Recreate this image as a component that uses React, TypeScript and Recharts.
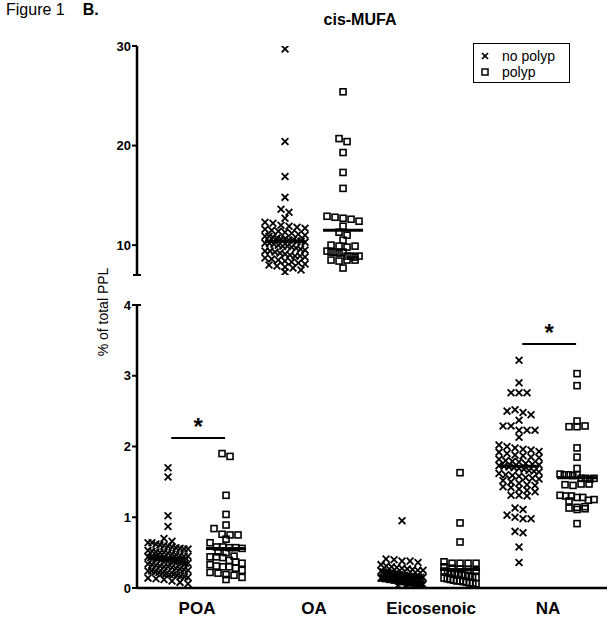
import React from 'react';
import { ScatterChart, Scatter, XAxis, YAxis, ReferenceLine } from 'recharts';

// ---------- data ----------
const categories = ['POA', 'OA', 'Eicosenoic', 'NA'];
const groupNames = ['no polyp', 'polyp'];

const poaNoPolyp = [1.70, 1.57, 1.02, 0.87, 0.70, 0.66, 0.64, 0.64, 0.62, 0.61, 0.60, 0.59, 0.58, 0.57, 0.56, 0.55, 0.55, 0.53, 0.52, 0.51, 0.50, 0.50, 0.49, 0.48, 0.47, 0.46, 0.45, 0.45, 0.44, 0.43, 0.43, 0.42, 0.42, 0.41, 0.41, 0.40, 0.40, 0.39, 0.38, 0.38, 0.37, 0.36, 0.35, 0.35, 0.34, 0.33, 0.32, 0.31, 0.30, 0.30, 0.29, 0.28, 0.27, 0.26, 0.25, 0.24, 0.24, 0.23, 0.22, 0.21, 0.20, 0.19, 0.19, 0.18, 0.17, 0.16, 0.15, 0.14, 0.13, 0.12, 0.10, 0.08, 0.06];
const poaPolyp = [1.90, 1.86, 1.31, 1.04, 0.89, 0.84, 0.76, 0.75, 0.75, 0.69, 0.64, 0.58, 0.58, 0.57, 0.57, 0.56, 0.51, 0.50, 0.45, 0.44, 0.44, 0.43, 0.39, 0.37, 0.35, 0.33, 0.31, 0.30, 0.30, 0.28, 0.25, 0.22, 0.21, 0.19, 0.18, 0.15, 0.12];
const oaNoPolyp = [29.7, 20.4, 16.9, 14.8, 13.6, 13.3, 12.7, 12.3, 12.2, 12.0, 11.9, 11.8, 11.7, 11.6, 11.5, 11.4, 11.3, 11.2, 11.1, 11.0, 10.9, 10.9, 10.8, 10.7, 10.6, 10.6, 10.5, 10.5, 10.4, 10.4, 10.3, 10.2, 10.2, 10.1, 10.0, 9.9, 9.9, 9.8, 9.7, 9.6, 9.5, 9.4, 9.4, 9.3, 9.2, 9.1, 9.0, 8.9, 8.9, 8.8, 8.7, 8.6, 8.5, 8.4, 8.3, 8.2, 8.1, 8.0, 7.9, 7.8, 7.7, 7.5, 7.3];
const oaPolyp = [25.4, 20.7, 20.4, 19.3, 17.3, 15.7, 12.9, 12.8, 12.7, 12.6, 12.4, 11.9, 11.3, 11.0, 10.5, 10.0, 9.9, 9.8, 9.9, 9.4, 9.3, 9.3, 9.2, 9.3, 8.9, 8.9, 8.8, 8.9, 8.5, 8.4, 8.5, 8.5, 7.7];
const eicoNoPolyp = [0.95, 0.41, 0.40, 0.38, 0.38, 0.36, 0.33, 0.31, 0.30, 0.29, 0.28, 0.27, 0.26, 0.25, 0.25, 0.24, 0.23, 0.22, 0.22, 0.21, 0.20, 0.20, 0.19, 0.19, 0.18, 0.18, 0.17, 0.17, 0.16, 0.16, 0.16, 0.15, 0.15, 0.15, 0.14, 0.14, 0.14, 0.13, 0.13, 0.13, 0.12, 0.12, 0.12, 0.11, 0.11, 0.11, 0.10, 0.10, 0.10, 0.09, 0.09, 0.09, 0.08, 0.08, 0.08, 0.07, 0.07, 0.07, 0.06, 0.06, 0.06, 0.05, 0.05, 0.05, 0.04, 0.04];
const eicoPolyp = [1.63, 0.92, 0.65, 0.37, 0.35, 0.35, 0.35, 0.35, 0.30, 0.28, 0.27, 0.26, 0.25, 0.24, 0.23, 0.22, 0.21, 0.20, 0.19, 0.18, 0.17, 0.16, 0.15, 0.14, 0.13, 0.12, 0.11, 0.10, 0.10, 0.09, 0.08, 0.07, 0.07, 0.06];
const naNoPolyp = [3.22, 2.90, 2.76, 2.76, 2.76, 2.50, 2.52, 2.48, 2.45, 2.37, 2.29, 2.29, 2.23, 2.23, 2.23, 2.13, 2.02, 2.00, 1.98, 1.96, 1.95, 1.93, 1.92, 1.90, 1.88, 1.87, 1.85, 1.84, 1.82, 1.80, 1.79, 1.78, 1.76, 1.75, 1.74, 1.73, 1.72, 1.71, 1.70, 1.69, 1.68, 1.66, 1.65, 1.64, 1.62, 1.60, 1.59, 1.58, 1.56, 1.55, 1.54, 1.52, 1.50, 1.48, 1.46, 1.45, 1.43, 1.42, 1.40, 1.38, 1.36, 1.31, 1.31, 1.30, 1.13, 1.11, 1.03, 1.00, 0.98, 0.98, 0.80, 0.78, 0.58, 0.36];
const naPolyp = [3.03, 2.86, 2.36, 2.28, 2.28, 2.29, 1.98, 1.85, 1.69, 1.61, 1.60, 1.60, 1.59, 1.60, 1.55, 1.55, 1.54, 1.55, 1.46, 1.45, 1.47, 1.47, 1.31, 1.30, 1.30, 1.28, 1.28, 1.24, 1.23, 1.25, 1.13, 1.14, 1.11, 1.12, 1.15, 0.91];

const mediansNoPolyp = [0.42, 10.4, 0.15, 1.72];
const mediansPolyp = [0.56, 11.5, 0.26, 1.56];

const sigBars = [
  { cat: 0, y: 2.12 },
  { cat: 3, y: 3.45 },
];

const upperTicks = [10, 20, 30];
const lowerTicks = [0, 1, 2, 3, 4];
const upperDomain: [number, number] = [7, 30];
const lowerDomain: [number, number] = [0, 4];

// ---------- layout helpers ----------
const X_DOMAIN: [number, number] = [-0.513, 3.504];
const PX_PER_X = 117;
const SIDE = 0.248;
const FONT = 'Arial, "Liberation Sans", Helvetica, sans-serif';

type Pt = { x: number; y: number; dx: number };

function swarm(values: number[], cat: number, side: number, pxPerUnit: number, halfWidth: number): Pt[] {
  const rowPx = 7;
  const step = 8;
  const rows = new Map<number, number[]>();
  values.forEach((v, i) => {
    const r = Math.round((v * pxPerUnit) / rowPx);
    if (!rows.has(r)) rows.set(r, []);
    rows.get(r)!.push(i);
  });
  const out: Pt[] = values.map((v) => ({ x: cat + side * SIDE, y: v, dx: 0 }));
  rows.forEach((idx) => {
    const n = idx.length;
    const s = n > 1 ? Math.min(step, (2 * halfWidth) / (n - 1)) : 0;
    idx.forEach((i, k) => {
      out[i].dx = (k - (n - 1) / 2) * s;
    });
  });
  return out;
}

const LOWER_PX = 70.8;
const UPPER_PX = 9.95;

const lowerNo = [
  ...swarm(poaNoPolyp, 0, -1, LOWER_PX, 20),
  ...swarm(eicoNoPolyp, 2, -1, LOWER_PX, 21),
  ...swarm(naNoPolyp, 3, -1, LOWER_PX, 20),
];
const lowerYes = [
  ...swarm(poaPolyp, 0, 1, LOWER_PX, 16),
  ...swarm(eicoPolyp, 2, 1, LOWER_PX, 16),
  ...swarm(naPolyp, 3, 1, LOWER_PX, 17),
];
const upperNo = swarm(oaNoPolyp, 1, -1, UPPER_PX, 20);
const upperYes = swarm(oaPolyp, 1, 1, UPPER_PX, 16);

const Cross = (props: any) => {
  const { cx, cy, payload } = props;
  if (cx == null || cy == null) return null;
  const x = cx + (payload?.dx || 0);
  const r = 3.4;
  return (
    <g>
      <line x1={x - r} y1={cy - r} x2={x + r} y2={cy + r} stroke="#000" strokeWidth={1.8} />
      <line x1={x - r} y1={cy + r} x2={x + r} y2={cy - r} stroke="#000" strokeWidth={1.8} />
    </g>
  );
};

const Square = (props: any) => {
  const { cx, cy, payload } = props;
  if (cx == null || cy == null) return null;
  const x = cx + (payload?.dx || 0);
  const r = 3;
  return <rect x={x - r} y={cy - r} width={2 * r} height={2 * r} fill="none" stroke="#000" strokeWidth={1.6} />;
};

const medianHalf = 20 / PX_PER_X;
const capHalf = 4 / PX_PER_X;

const yTick = { fontSize: 13, fontWeight: 'bold', fill: '#000', fontFamily: FONT };

export default function App() {
  return (
    <div style={{ position: 'absolute', left: 0, top: 0, width: 615, height: 622, background: '#fff', fontFamily: FONT, color: '#000' }}>
      <div style={{ position: 'absolute', left: 6, top: 1, fontSize: 16, whiteSpace: 'nowrap' }}>
        Figure 1<span style={{ fontWeight: 'bold', marginLeft: 18 }}>B.</span>
      </div>
      <div style={{ position: 'absolute', left: 360, top: 11, transform: 'translateX(-50%)', fontSize: 16, fontWeight: 'bold', whiteSpace: 'nowrap' }}>
        cis-MUFA
      </div>
      <div
        style={{
          position: 'absolute',
          left: 103,
          top: 312,
          transform: 'translate(-50%, -50%) rotate(-90deg)',
          fontSize: 14,
          whiteSpace: 'nowrap',
        }}
      >
        % of total PPL
      </div>

      {/* upper segment (OA) */}
      <div style={{ position: 'absolute', left: 0, top: 0 }}>
        <ScatterChart width={615} height={285} margin={{ top: 46, right: 8, bottom: 10, left: 0 }}>
          <XAxis type="number" dataKey="x" domain={X_DOMAIN} hide allowDataOverflow />
          <YAxis
            type="number"
            dataKey="y"
            domain={upperDomain}
            ticks={upperTicks}
            width={137}
            allowDataOverflow
            tick={yTick}
            tickSize={5}
            tickMargin={1}
            axisLine={{ stroke: '#000', strokeWidth: 2.5 }}
            tickLine={{ stroke: '#000', strokeWidth: 2 }}
          />
          <Scatter name={groupNames[0]} data={upperNo} shape={<Cross />} isAnimationActive={false} />
          <Scatter name={groupNames[1]} data={upperYes} shape={<Square />} isAnimationActive={false} />
          <ReferenceLine
            segment={[{ x: 1 - SIDE - medianHalf, y: mediansNoPolyp[1] }, { x: 1 - SIDE + medianHalf, y: mediansNoPolyp[1] }]}
            stroke="#000"
            strokeWidth={3}
          />
          <ReferenceLine
            segment={[{ x: 1 + SIDE - medianHalf, y: mediansPolyp[1] }, { x: 1 + SIDE + medianHalf, y: mediansPolyp[1] }]}
            stroke="#000"
            strokeWidth={3}
          />
          <ReferenceLine
            segment={[{ x: X_DOMAIN[0] - capHalf, y: upperDomain[0] }, { x: X_DOMAIN[0] + capHalf, y: upperDomain[0] }]}
            stroke="#000"
            strokeWidth={2}
            ifOverflow="visible"
          />
        </ScatterChart>
      </div>

      {/* lower segment */}
      <div style={{ position: 'absolute', left: 0, top: 280 }}>
        <ScatterChart width={615} height={342} margin={{ top: 25, right: 8, bottom: 0, left: 0 }}>
          <XAxis
            type="number"
            dataKey="x"
            domain={X_DOMAIN}
            allowDataOverflow
            ticks={[0, 1, 2, 3]}
            tickFormatter={(v: number) => categories[v] ?? ''}
            height={34}
            tickLine={false}
            tickSize={0}
            tickMargin={14}
            tick={{ fontSize: 17, fontWeight: 'bold', fill: '#000', fontFamily: FONT }}
            axisLine={{ stroke: '#000', strokeWidth: 2.5 }}
          />
          <YAxis
            type="number"
            dataKey="y"
            domain={lowerDomain}
            ticks={lowerTicks}
            width={137}
            allowDataOverflow
            tick={yTick}
            tickSize={5}
            tickMargin={1}
            axisLine={{ stroke: '#000', strokeWidth: 2.5 }}
            tickLine={{ stroke: '#000', strokeWidth: 2 }}
          />
          <Scatter name={groupNames[0]} data={lowerNo} shape={<Cross />} isAnimationActive={false} />
          <Scatter name={groupNames[1]} data={lowerYes} shape={<Square />} isAnimationActive={false} />
          {[0, 2, 3].map((c) => (
            <ReferenceLine
              key={'mn' + c}
              segment={[{ x: c - SIDE - medianHalf, y: mediansNoPolyp[c] }, { x: c - SIDE + medianHalf, y: mediansNoPolyp[c] }]}
              stroke="#000"
              strokeWidth={3}
            />
          ))}
          {[0, 2, 3].map((c) => (
            <ReferenceLine
              key={'mp' + c}
              segment={[{ x: c + SIDE - medianHalf, y: mediansPolyp[c] }, { x: c + SIDE + medianHalf, y: mediansPolyp[c] }]}
              stroke="#000"
              strokeWidth={3}
            />
          ))}
          {sigBars.map((b) => (
            <ReferenceLine
              key={'sig' + b.cat}
              segment={[{ x: b.cat - 0.22, y: b.y }, { x: b.cat + 0.24, y: b.y }]}
              stroke="#000"
              strokeWidth={2}
              label={{ value: '*', position: 'top', offset: 3, fontSize: 24, fontWeight: 'bold', fill: '#000', fontFamily: FONT }}
            />
          ))}
          <ReferenceLine
            segment={[{ x: X_DOMAIN[0] - capHalf, y: lowerDomain[1] }, { x: X_DOMAIN[0] + capHalf, y: lowerDomain[1] }]}
            stroke="#000"
            strokeWidth={2}
            ifOverflow="visible"
          />
        </ScatterChart>
      </div>

      {/* legend */}
      <div
        style={{
          position: 'absolute',
          left: 473,
          top: 43,
          width: 97,
          height: 40,
          border: '1.5px solid #000',
          fontSize: 14,
          lineHeight: '16px',
          paddingTop: 4,
          boxSizing: 'border-box',
        }}
      >
        {groupNames.map((g, i) => (
          <div key={g} style={{ display: 'flex', alignItems: 'center', height: 16 }}>
            <svg width={28} height={16} style={{ flex: 'none' }}>
              {i === 0 ? (
                <g>
                  <line x1={8} y1={5} x2={14} y2={11} stroke="#000" strokeWidth={1.7} />
                  <line x1={8} y1={11} x2={14} y2={5} stroke="#000" strokeWidth={1.7} />
                </g>
              ) : (
                <rect x={8} y={5} width={6} height={6} fill="none" stroke="#000" strokeWidth={1.5} />
              )}
            </svg>
            <span>{g}</span>
          </div>
        ))}
      </div>
    </div>
  );
}
